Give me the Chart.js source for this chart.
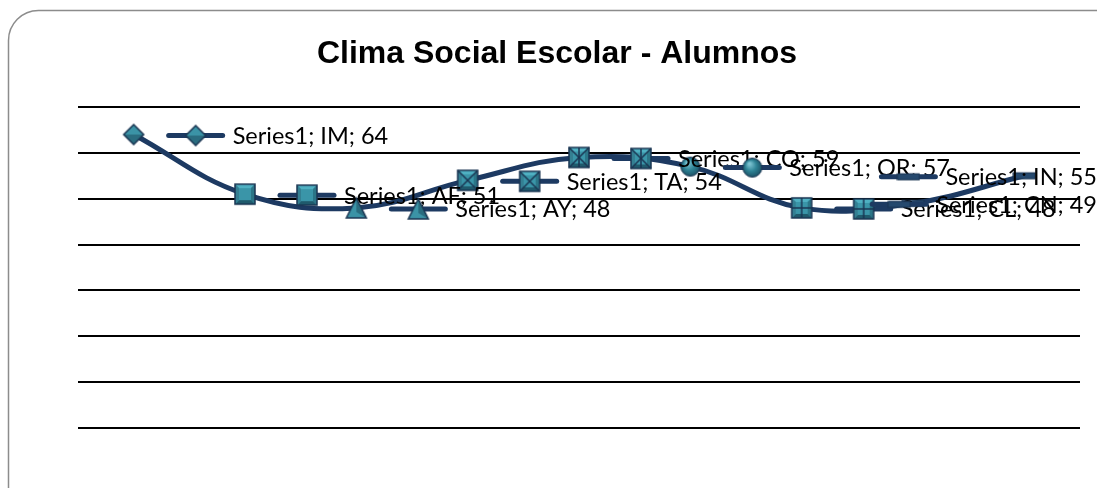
<!DOCTYPE html>
<html>
<head>
<meta charset="utf-8">
<script src="https://cdn.jsdelivr.net/npm/chart.js@4/dist/chart.umd.min.js"></script>
<style>
	html, body { margin: 0; padding: 0; background: #fff; }
	#wrap { position: relative; width: 1097px; height: 488px; }
</style>
</head>
<body>
<div id="wrap"><canvas id="chart"></canvas></div>
<script>
(function () {
	'use strict';

	const categories = ['IM', 'AF', 'AY', 'TA', 'CO', 'OR', 'CL', 'CN', 'IN'];
	const values = [64, 51, 48, 54, 59, 57, 48, 49, 55];
	const markers = ['diamond', 'square', 'triangle', 'squareX', 'squareStar', 'circle', 'squarePlus', 'dash', 'dash'];
	const seriesName = 'Series1';

	const lineColor = '#1d3a62';
	const edge = '#1a3552';

	// little bevelled marker images, like the Excel ones
	function makeMarker(kind) {
		const c = document.createElement('canvas');
		c.width = 24;
		c.height = 24;
		const g = c.getContext('2d');
		const m = 12;
		if (kind === 'diamond') {
			g.fillStyle = '#3b93a6';
			g.beginPath();
			g.moveTo(m, 2); g.lineTo(22, m); g.lineTo(m, 22); g.lineTo(2, m); g.closePath();
			g.fill();
			g.fillStyle = '#2a6c7f';
			g.beginPath();
			g.moveTo(2, m); g.lineTo(22, m); g.lineTo(m, 22); g.closePath();
			g.fill();
			g.strokeStyle = edge;
			g.lineWidth = 1.5;
			g.beginPath();
			g.moveTo(m, 2); g.lineTo(22, m); g.lineTo(m, 22); g.lineTo(2, m); g.closePath();
			g.stroke();
		} else if (kind === 'triangle') {
			g.fillStyle = '#3b93a6';
			g.beginPath();
			g.moveTo(m, 2); g.lineTo(22, 22); g.lineTo(2, 22); g.closePath();
			g.fill();
			g.fillStyle = '#2a6c7f';
			g.beginPath();
			g.moveTo(m, 2); g.lineTo(22, 22); g.lineTo(m, 16); g.closePath();
			g.fill();
			g.strokeStyle = edge;
			g.lineWidth = 1.5;
			g.beginPath();
			g.moveTo(m, 2); g.lineTo(22, 22); g.lineTo(2, 22); g.closePath();
			g.stroke();
		} else if (kind === 'circle') {
			const grad = g.createRadialGradient(9, 8, 1, m, m, 10);
			grad.addColorStop(0, '#7cc3d2');
			grad.addColorStop(0.5, '#2f8496');
			grad.addColorStop(1, '#1b4f63');
			g.fillStyle = grad;
			g.beginPath();
			g.arc(m, m, 9.5, 0, Math.PI * 2);
			g.fill();
			g.strokeStyle = edge;
			g.lineWidth = 1;
			g.stroke();
		} else if (kind === 'dash') {
			g.fillStyle = '#25496e';
			g.fillRect(1, 9, 22, 6);
			g.strokeStyle = edge;
			g.lineWidth = 1;
			g.strokeRect(1, 9, 22, 6);
		} else {
			// square pyramid
			const a = 2, b = 22;
			g.fillStyle = '#3a95a8';
			g.fillRect(a, a, b - a, b - a);
			g.fillStyle = '#4fb0c2';
			g.beginPath(); g.moveTo(a, a); g.lineTo(b, a); g.lineTo(b - 4, a + 4); g.lineTo(a + 4, a + 4); g.closePath(); g.fill();
			g.fillStyle = '#2b7587';
			g.beginPath(); g.moveTo(b, a); g.lineTo(b, b); g.lineTo(b - 4, b - 4); g.lineTo(b - 4, a + 4); g.closePath(); g.fill();
			g.fillStyle = '#1f5a6c';
			g.beginPath(); g.moveTo(a, b); g.lineTo(b, b); g.lineTo(b - 4, b - 4); g.lineTo(a + 4, b - 4); g.closePath(); g.fill();
			g.fillStyle = '#347f92';
			g.beginPath(); g.moveTo(a, a); g.lineTo(a, b); g.lineTo(a + 4, b - 4); g.lineTo(a + 4, a + 4); g.closePath(); g.fill();
			g.strokeStyle = edge;
			g.lineWidth = 1.5;
			if (kind === 'squareX' || kind === 'squareStar') {
				g.beginPath(); g.moveTo(a, a); g.lineTo(b, b); g.moveTo(b, a); g.lineTo(a, b); g.stroke();
			}
			if (kind === 'squareStar' || kind === 'squarePlus') {
				g.beginPath(); g.moveTo(m, a); g.lineTo(m, b); g.stroke();
			}
			if (kind === 'squarePlus') {
				g.beginPath(); g.moveTo(a, m); g.lineTo(b, m); g.stroke();
			}
			g.strokeRect(a, a, b - a, b - a);
		}
		return c;
	}

	const markerImages = markers.map(makeMarker);

	const labelFont = '23.5px Lato, "Open Sans", sans-serif';

	const frame = {
		id: 'frame',
		beforeDraw(chart) {
			const g = chart.ctx;
			g.save();
			g.fillStyle = '#fff';
			g.fillRect(0, 0, chart.width, chart.height);
			g.strokeStyle = '#8c8c8c';
			g.lineWidth = 1.5;
			g.beginPath();
			g.roundRect(8.5, 10.5, chart.width + 40, chart.height + 40, 30);
			g.stroke();
			g.restore();
		}
	};

	// data labels with the legend key in front, as Excel draws them
	const keyLabels = {
		id: 'keyLabels',
		afterDatasetsDraw(chart) {
			const g = chart.ctx;
			const meta = chart.getDatasetMeta(0);
			g.save();
			g.font = labelFont;
			g.textBaseline = 'middle';
			g.textAlign = 'left';
			meta.data.forEach(function (pt, i) {
				const text = seriesName + '; ' + categories[i] + '; ' + values[i];
				const w = g.measureText(text).width;
				let tx = pt.x + 99;
				if (tx + w > chart.width) {
					tx = chart.width - w;
				}
				const kx = tx - 37;
				const y = pt.y + 1;
				g.strokeStyle = lineColor;
				g.lineWidth = 5;
				g.lineCap = 'round';
				g.beginPath();
				g.moveTo(kx - 27, y);
				g.lineTo(kx + 27, y);
				g.stroke();
				g.drawImage(markerImages[i], kx - 12, y - 12);
				g.fillStyle = '#000';
				g.fillText(text, tx, y + 1);
			});
			g.restore();
		}
	};

	new Chart(document.getElementById('chart'), {
		type: 'line',
		data: {
			labels: categories,
			datasets: [{
				label: seriesName,
				data: values,
				borderColor: lineColor,
				borderWidth: 5,
				tension: 0.4,
				pointStyle: markerImages,
				pointRadius: 11,
				pointHoverRadius: 11
			}]
		},
		plugins: [frame, keyLabels],
		options: {
			responsive: true,
			maintainAspectRatio: false,
			animation: false,
			events: [],
			layout: {
				padding: { left: 34, right: 17, top: 0, bottom: 60 }
			},
			plugins: {
				legend: { display: false },
				tooltip: { enabled: false },
				title: {
					display: true,
					text: 'Clima Social Escolar - Alumnos',
					color: '#000',
					font: { family: '"Liberation Sans", Arial, sans-serif', size: 32, weight: 'bold', lineHeight: 1.2 },
					padding: { top: 35, bottom: 33.6 }
				}
			},
			scales: {
				x: {
					display: false,
					offset: true
				},
				y: {
					min: 0,
					max: 70,
					display: true,
					border: { display: false },
					ticks: { display: false, stepSize: 10 },
					grid: { color: '#000', lineWidth: 2, drawTicks: false },
					afterFit: function (scale) {
						scale.width = 44; // hidden axis keeps the plot starting where the original does
					}
				}
			}
		}
	});
})();
</script>
</body>
</html>
